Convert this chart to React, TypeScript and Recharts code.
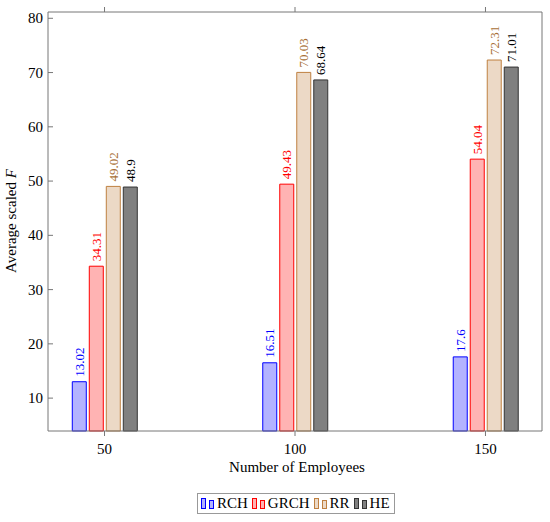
import { BarChart, Bar, XAxis, YAxis, LabelList, Label } from "recharts";

const employees = [50, 100, 150];
const rch = [13.02, 16.51, 17.6];
const grch = [34.31, 49.43, 54.04];
const rr = [49.02, 70.03, 72.31];
const he = [48.9, 68.64, 71.01];
const yTicks = [10, 20, 30, 40, 50, 60, 70, 80];

const data = employees.map((n, i) => ({
    n,
    RCH: rch[i],
    GRCH: grch[i],
    RR: rr[i],
    HE: he[i],
}));

const series = [
    { key: "RCH", fill: "#b3b3ff", stroke: "#0000ff", text: "#0000ff" },
    { key: "GRCH", fill: "#ffb3b3", stroke: "#ff0000", text: "#ff0000" },
    { key: "RR", fill: "#ecd9c6", stroke: "#bf8040", text: "#a86f36" },
    { key: "HE", fill: "#808080", stroke: "#333333", text: "#000000" },
];

const font = "Liberation Serif, Times New Roman, serif";
const axisColor = "#777";

const LeftTick = (props: any) => {
    const { x, y, payload } = props;
    return (
        <g>
            <text x={x} y={y} textAnchor="end" dominantBaseline="central" style={{ fontSize: 15, fontFamily: font }} fill="#000">
                {payload.value}
            </text>
            <line x1={x + 5} x2={x + 10} y1={y} y2={y} stroke={axisColor} />
        </g>
    );
};

const RightTick = (props: any) => {
    const { x, y } = props;
    return <line x1={x - 5} x2={x} y1={y} y2={y} stroke={axisColor} />;
};

const BottomTick = (props: any) => {
    const { x, y, payload } = props;
    return (
        <text x={x} y={y + 7} textAnchor="middle" dominantBaseline="central" style={{ fontSize: 15, fontFamily: font }} fill="#000">
            {payload.value}
        </text>
    );
};

const barLabel = (color: string) => (props: any) => {
    const { x, y, width, value } = props;
    const cx = x + width / 2;
    const cy = y - 5;
    return (
        <text
            x={cx}
            y={cy}
            transform={`rotate(-90 ${cx} ${cy})`}
            textAnchor="start"
            dominantBaseline="central"
            style={{ fontSize: 13, fontFamily: font }}
            fill={color}
        >
            {value}
        </text>
    );
};

const YTitle = () => {
    const cx = 11;
    const cy = 221;
    return (
        <text
            x={cx}
            y={cy}
            transform={`rotate(-90 ${cx} ${cy})`}
            textAnchor="middle"
            dominantBaseline="central"
            style={{ fontSize: 15, fontFamily: font }}
            fill="#000"
        >
            Average scaled <tspan fontStyle="italic">F</tspan>
        </text>
    );
};

const XTitle = () => (
    <text
        x={297}
        y={467}
        textAnchor="middle"
        dominantBaseline="central"
        style={{ fontSize: 15, fontFamily: font }}
        fill="#000"
    >
        Number of Employees
    </text>
);

const LegendBox = () => (
    <div
        style={{
            position: "absolute",
            left: 197,
            top: 493,
            width: 198,
            height: 21,
            boxSizing: "border-box",
            border: "1px solid #999",
            display: "flex",
            alignItems: "center",
            paddingLeft: 3,
            fontFamily: font,
            fontSize: 15,
            color: "#000",
        }}
    >
        {series.map((s) => (
            <div key={s.key} style={{ display: "flex", alignItems: "center", marginRight: 4 }}>
                <svg width={13} height={11} style={{ marginRight: 3 }}>
                    <rect x={0.5} y={0.5} width={4} height={10} fill={s.fill} stroke={s.stroke} />
                    <rect x={8.5} y={2.5} width={4} height={8} fill={s.fill} stroke={s.stroke} />
                </svg>
                <span>{s.key}</span>
            </div>
        ))}
    </div>
);

export default function App() {
    return (
        <div style={{ position: "absolute", left: 0, top: 0, width: 550, height: 522, background: "#fff" }}>
            <BarChart
                width={550}
                height={522}
                data={data}
                barSize={14}
                barGap={3}
                margin={{ top: 11, right: 4, left: 0, bottom: 49 }}
            >
                <XAxis
                    dataKey="n"
                    type="number"
                    domain={[35.16, 164.84]}
                    ticks={employees}
                    height={42}
                    tickSize={5}
                    tickMargin={6}
                    stroke={axisColor}
                    tick={<BottomTick />}
                    label={<XTitle />}
                />
                <XAxis
                    xAxisId="top"
                    dataKey="n"
                    type="number"
                    orientation="top"
                    domain={[35.16, 164.84]}
                    ticks={employees}
                    height={1}
                    tickSize={5}
                    tick={() => null}
                    stroke={axisColor}
                />
                <YAxis
                    type="number"
                    domain={[3.94, 81.16]}
                    ticks={yTicks}
                    width={48}
                    tickSize={0}
                    tickMargin={5}
                    tickLine={false}
                    stroke={axisColor}
                    tick={<LeftTick />}
                    label={<YTitle />}
                />
                <YAxis
                    yAxisId="right"
                    orientation="right"
                    type="number"
                    domain={[3.94, 81.16]}
                    ticks={yTicks}
                    width={4}
                    tickSize={0}
                    tickMargin={0}
                    tickLine={false}
                    stroke={axisColor}
                    tick={<RightTick />}
                />
                {series.map((s) => (
                    <Bar
                        key={s.key}
                        dataKey={s.key}
                        fill={s.fill}
                        stroke={s.stroke}
                        strokeWidth={1}
                        isAnimationActive={false}
                    >
                        <LabelList dataKey={s.key} content={barLabel(s.text)} />
                    </Bar>
                ))}
            </BarChart>
            <LegendBox />
        </div>
    );
}
